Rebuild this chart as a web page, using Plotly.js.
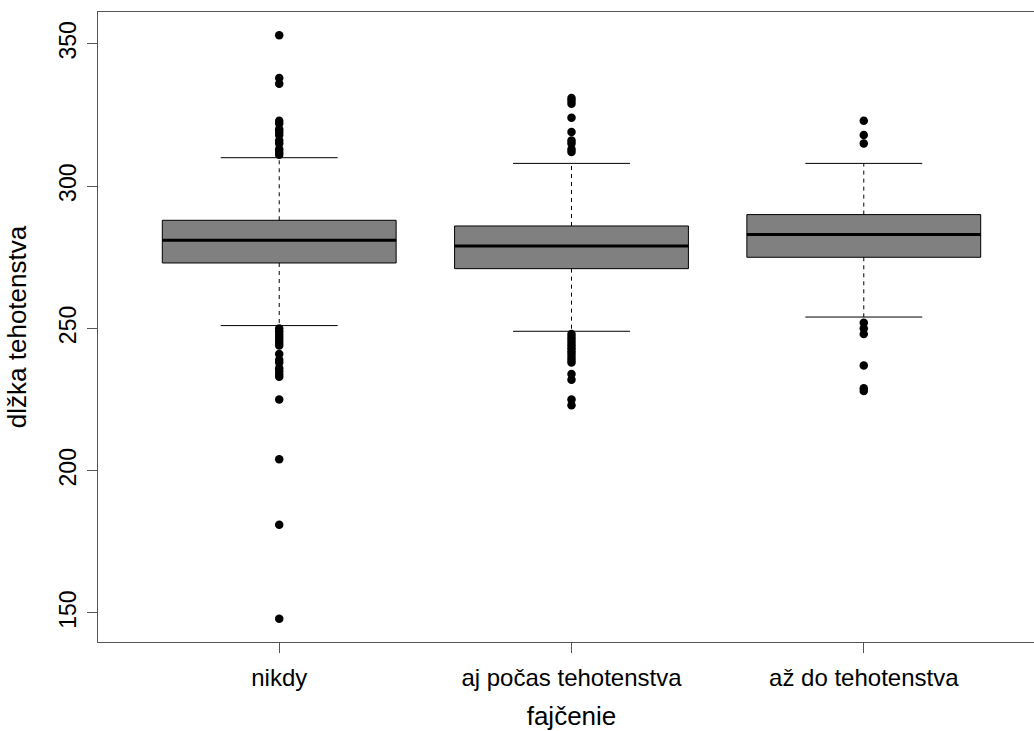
<!DOCTYPE html>
<html>
<head>
<meta charset="utf-8">
<script src="https://cdn.plot.ly/plotly-3.0.1.min.js"></script>
<style>
  html, body { margin: 0; padding: 0; overflow: hidden; background: #fff; }
  #chart { width: 1050px; height: 731px; }
</style>
</head>
<body>
<div id="chart"></div>
<script>
// Gestation length by smoking status
const categories = ['nikdy', 'aj počas tehotenstva', 'až do tehotenstva'];
const positions = [1, 2, 3];
const q1 = [273, 271, 275];
const median = [281, 279, 283];
const q3 = [288, 286, 290];
const lowerWhisker = [251, 249, 254];
const upperWhisker = [310, 308, 308];

const outliersNikdy = [353, 338, 336, 323, 322, 320, 319, 318, 316, 315, 313, 312, 311,
  250, 249, 248, 247, 246, 245, 244, 241, 239, 238, 236, 235, 234, 233, 225, 204, 181, 148];
const outliersPocas = [331, 330, 329, 324, 319, 316, 315, 313, 312,
  248, 247, 246, 245, 244, 243, 242, 241, 240, 239, 238, 234, 232, 225, 223];
const outliersAz = [323, 318, 315, 252, 250, 248, 237, 229, 228];

const yTicks = [150, 200, 250, 300, 350];

const boxWidth = 0.8;
const capHalf = boxWidth / 4;
const FONT = 'Liberation Sans, Arial, sans-serif';

const traces = [];

// boxes (body only; whiskers drawn separately as dashed lines)
positions.forEach((p, i) => {
  traces.push({
    type: 'box',
    x: [p],
    q1: [q1[i]], median: [median[i]], q3: [q3[i]],
    lowerfence: [q1[i]], upperfence: [q3[i]],
    width: boxWidth,
    whiskerwidth: 0,
    fillcolor: '#808080',
    line: { color: '#000000', width: 1 },
    boxpoints: false,
    hoverinfo: 'skip',
    showlegend: false
  });
});

// thick median bars
const medX = [], medY = [];
positions.forEach((p, i) => {
  medX.push(p - boxWidth / 2, p + boxWidth / 2, null);
  medY.push(median[i], median[i], null);
});
traces.push({
  type: 'scatter', mode: 'lines', x: medX, y: medY,
  line: { color: '#000000', width: 3 }, hoverinfo: 'skip', showlegend: false
});

// dashed whiskers
const wX = [], wY = [];
positions.forEach((p, i) => {
  wX.push(p, p, null, p, p, null);
  wY.push(q3[i], upperWhisker[i], null, q1[i], lowerWhisker[i], null);
});
traces.push({
  type: 'scatter', mode: 'lines', x: wX, y: wY,
  line: { color: '#000000', width: 1, dash: '4px,4px' }, hoverinfo: 'skip', showlegend: false
});

// whisker caps
const cX = [], cY = [];
positions.forEach((p, i) => {
  cX.push(p - capHalf, p + capHalf, null, p - capHalf, p + capHalf, null);
  cY.push(upperWhisker[i], upperWhisker[i], null, lowerWhisker[i], lowerWhisker[i], null);
});
traces.push({
  type: 'scatter', mode: 'lines', x: cX, y: cY,
  line: { color: '#000000', width: 1 }, hoverinfo: 'skip', showlegend: false
});

// outliers
[outliersNikdy, outliersPocas, outliersAz].forEach((vals, i) => {
  traces.push({
    type: 'scatter', mode: 'markers',
    x: vals.map(() => positions[i]), y: vals,
    marker: { color: '#000000', size: 8.5, symbol: 'circle' },
    showlegend: false
  });
});

const layout = {
  width: 1050, height: 731,
  margin: { l: 97.5, r: 4.5, t: 12, b: 89 },
  paper_bgcolor: '#ffffff', plot_bgcolor: '#ffffff',
  font: { family: FONT, color: '#000000' },
  showlegend: false,
  xaxis: {
    range: [0.38, 3.62],
    tickvals: positions, ticktext: categories,
    ticks: 'outside', ticklen: 10, tickwidth: 1, tickcolor: '#555555',
    ticklabelstandoff: 4,
    showline: true, linecolor: '#555555', linewidth: 1, mirror: true,
    showgrid: false, zeroline: false,
    tickfont: { family: FONT, size: 24, color: '#000000' },
    title: { text: 'fajčenie', font: { family: FONT, size: 26, color: '#000000' }, standoff: 20 }
  },
  yaxis: {
    range: [139.8, 361.2],
    tickvals: yTicks, ticktext: yTicks.map(String),
    tickangle: -90,
    ticks: 'outside', ticklen: 10, tickwidth: 1, tickcolor: '#555555',
    ticklabelstandoff: 2,
    showline: true, linecolor: '#555555', linewidth: 1, mirror: true,
    showgrid: false, zeroline: false,
    tickfont: { family: FONT, size: 23, color: '#000000' },
    title: { text: 'dlžka tehotenstva', font: { family: FONT, size: 26, color: '#000000' }, standoff: 20 }
  }
};

Plotly.newPlot('chart', traces, layout, { displayModeBar: false, staticPlot: true });
</script>
</body>
</html>
